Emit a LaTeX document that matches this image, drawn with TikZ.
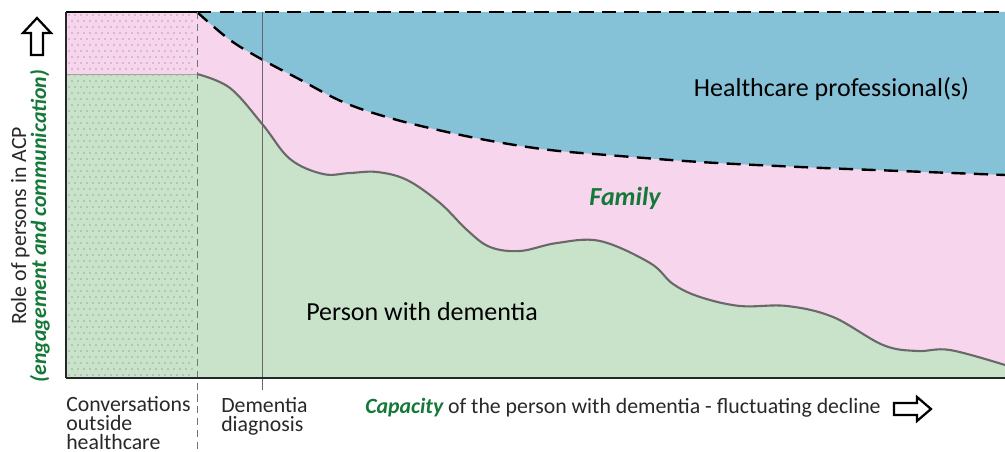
\documentclass[tikz,border=0pt]{standalone}
\usepackage{fontspec}
\setmainfont{Carlito}
\definecolor{hcp}{RGB}{134,194,215}
\definecolor{fam}{RGB}{247,214,237}
\definecolor{pwd}{RGB}{201,227,203}
\definecolor{grn}{RGB}{20,120,56}
\definecolor{crv}{RGB}{105,105,105}
\definecolor{txt}{RGB}{40,40,40}
\def\pwdcurve{(197,74) (230,88) (263,125) (290,159) (323,174) (350,173) (377,172) (407,180) (440,203) (467,230) (490,247) (520,251) (557,243) (600,241) (650,263) (673,284) (700,297) (740,306) (787,306) (833,317) (883,345) (917,351) (950,350) (1005,365)}
\def\hcpcurve{(197,12) (230,40) (263,60) (297,78) (343,102) (390,118) (447,132) (497,142) (550,150) (607,155) (700,162) (800,167) (900,171) (1005,175)}

\begin{document}
\begin{tikzpicture}[x=0.025cm,y=-0.025cm,
  big/.style={font=\fontsize{18.5}{20}\selectfont,inner sep=0pt,anchor=base},
  sml/.style={font=\fontsize{15.5}{13.3}\selectfont,inner sep=0pt,txt},
  hi/.style={grn,font=\fontsize{18.5}{20}\selectfont\bfseries\itshape},
  blockarrow/.style={draw=black,line width=1.6pt,fill=white,line join=miter}]
  \useasboundingbox (0,0) rectangle (1005,452);
  % areas
  \fill[fam] (66,12) rectangle (1005,378);
  \fill[hcp] plot[smooth,tension=0.6] coordinates {\hcpcurve} -- (1005,12) -- cycle;
  \fill[pwd] (66,378) -- (66,74) -- plot[smooth,tension=0.6] coordinates {\pwdcurve} -- (1005,378) -- cycle;
  % dotted part before diagnosis
  \foreach \i in {0,...,20}
    \foreach \j in {0,...,60}
      \fill[gray!80!black] ({69+6*\i+3*mod(\j,2)},{15+6*\j}) circle (0.45pt);
  % boundaries
  \draw[crv!60,line width=0.5pt] (66,74) -- (197,74);
  \draw[crv,line width=1.5pt] plot[smooth,tension=0.6] coordinates {\pwdcurve};
  \draw[black,line width=1.7pt,dash pattern=on 10pt off 6pt] plot[smooth,tension=0.6] coordinates {\hcpcurve};
  \draw[black,line width=1.3pt,dash pattern=on 10pt off 6pt] (197,12) -- (1005,12);
  \draw[black,line width=1.3pt] (66,12) -- (197,12);
  \draw[gray!90!black,line width=0.6pt,dash pattern=on 5pt off 3.5pt] (197,12) -- (197,452);
  \draw[gray!80!black,line width=0.6pt] (262,12) -- (262,390);
  % axes
  \draw[black!85,line width=1.4pt] (66,12) -- (66,378);
  \draw[black!85,line width=1.8pt] (66,378) -- (1005,378);
  % labels
  \node[big] (hcplabel) at (831.5,97) {Healthcare professional(s)};
  \node[big,hi] (famlabel) at (625,206) {Family};
  \node[big] (pwdlabel) at (422,320) {Person with dementia};
  \node[sml,align=left,anchor=base west] (convlabel) at (66,449) {Conversations\\outside\\healthcare};
  \node[sml,align=left,anchor=base west] (diaglabel) at (221,431) {Dementia\\diagnosis};
  \node[sml,anchor=base west] (caplabel) at (365,413) {{\color{grn}\bfseries\itshape Capacity} of the person with dementia - fluctuating decline};
  \node[sml,rotate=90,anchor=base] (rolelabel) at (26,226) {Role of persons in ACP};
  \node[sml,rotate=90,anchor=base,grn] (englabel) at (46,226) {\bfseries\itshape (engagement and communication)};
  % arrows
  \draw[blockarrow] (37,18) -- (51,33) -- (43,33) -- (43,55) -- (31,55) -- (31,33) -- (23,33) -- cycle;
  \draw[blockarrow] (931,409) -- (917,397) -- (917,403) -- (894,403) -- (894,415) -- (917,415) -- (917,421) -- cycle;
\end{tikzpicture}
\end{document}
